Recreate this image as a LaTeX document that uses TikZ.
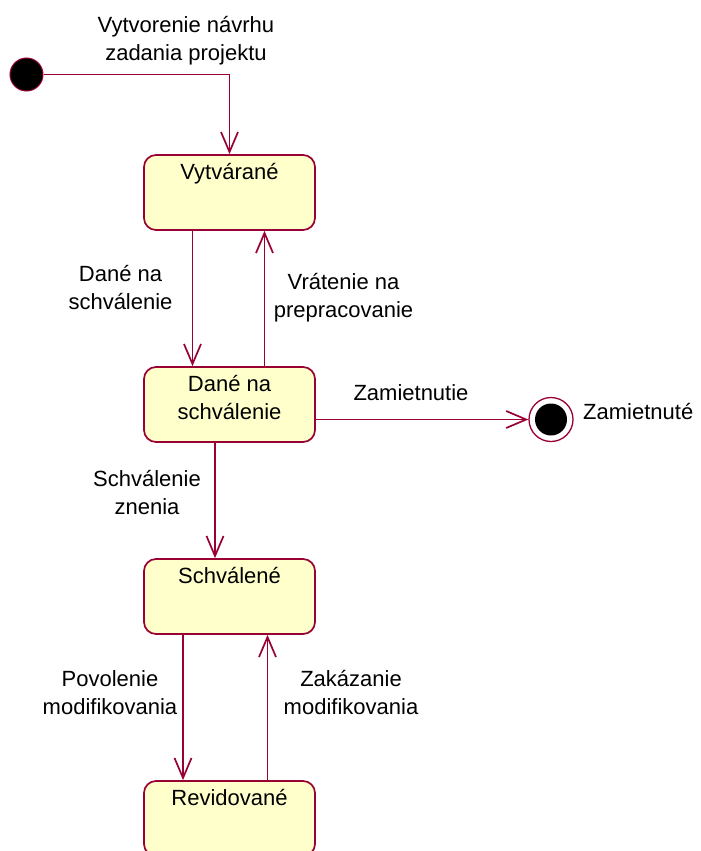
\documentclass[tikz,border=0pt]{standalone}
\usepackage{fontspec}
\setmainfont{Liberation Sans}
\usetikzlibrary{arrows.meta,calc,positioning}
\definecolor{roseRed}{HTML}{990033}
\definecolor{roseYellow}{HTML}{FFFFCC}

\begin{document}
\begin{tikzpicture}[x=1pt,y=-1pt,>={Straight Barb[length=20pt,width=17pt]},
    font=\fontsize{22}{28}\selectfont,
    state/.style={draw=roseRed,line width=1.7pt,fill=roseYellow,rounded corners=12pt,
      minimum width=171pt,minimum height=75pt,inner sep=0pt},
    stateText/.style={anchor=base,yshift=-25pt,align=center,inner sep=0pt},
    startDot/.style={circle,fill=black,draw=roseRed,line width=1pt,minimum size=33pt,inner sep=0pt},
    endDot/.style={circle,draw=roseRed,fill=white,line width=1.3pt,minimum size=44pt,inner sep=0pt,
      path picture={\fill[black] (path picture bounding box.center) circle (16pt);}},
    trans/.style={->,draw=roseRed,line width=1.7pt},
    transText/.style={anchor=base,align=center,inner sep=0pt}]
    \useasboundingbox (0,0) rectangle (701,851);

    % states
    \node[startDot] (startNode) at (26.5,74.5) {};
    \node[state,label={[stateText]north:Vytvárané}] (vytvaraneNode) at (229.5,192.5) {};
    \node[state,label={[stateText,yshift=-28pt]north:Dané na\\schválenie}] (daneNode) at (229.5,404.5) {};
    \node[state,label={[stateText]north:Schválené}] (schvaleneNode) at (229.5,596.5) {};
    \node[state,label={[stateText]north:Revidované}] (revidovaneNode) at (229.5,818.5) {};
    \node[endDot] (endNode) at (551,419.5) {};
    \node[anchor=base west,inner sep=0pt] (zamietnuteText) at (583,419) {Zamietnuté};

    % transitions
    \draw[trans] (startNode) -| (vytvaraneNode);
    \draw[trans] ([xshift=-37pt]vytvaraneNode.south) -- ([xshift=-37pt]daneNode.north);
    \draw[trans] ([xshift=35pt]daneNode.north) -- ([xshift=35pt]vytvaraneNode.south);
    \draw[trans] ([yshift=-15pt]daneNode.east) -- (endNode);
    \draw[trans] ([xshift=-14.5pt]daneNode.south) -- ([xshift=-14.5pt]schvaleneNode.north);
    \draw[trans] ([xshift=-46.5pt]schvaleneNode.south) -- ([xshift=-46.5pt]revidovaneNode.north);
    \draw[trans] ([xshift=38pt]revidovaneNode.north) -- ([xshift=38pt]schvaleneNode.south);

    \node[transText] (vytvorenieText) at (186,60) {Vytvorenie návrhu\\zadania projektu};
    \node[transText] (naSchvalenieText) at (120.5,309) {Dané na\\schválenie};
    \node[transText] (vratenieText) at (343.5,317) {Vrátenie na\\prepracovanie};
    \node[transText] (zamietnutieText) at (411,400) {Zamietnutie};
    \node[transText] (schvalenieText) at (147,514) {Schválenie\\znenia};
    \node[transText] (povolenieText) at (110,714) {Povolenie\\modifikovania};
    \node[transText] (zakazanieText) at (351,714) {Zakázanie\\modifikovania};
  \end{tikzpicture}
\end{document}
